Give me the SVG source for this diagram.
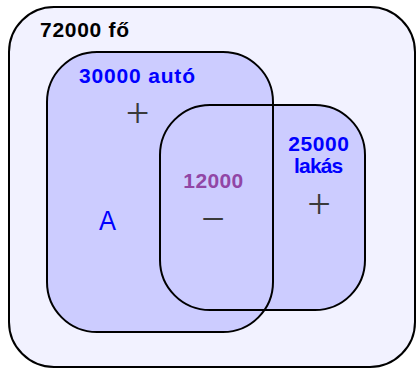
<svg xmlns="http://www.w3.org/2000/svg" width="416" height="369" viewBox="0 0 416 369">
<style>
.box{stroke:#000;stroke-width:2}
.lbl{font-family:"Liberation Sans",Arial,sans-serif;font-weight:bold;font-size:21px}
.sym{font-family:"Liberation Serif","Times New Roman",serif;font-size:42px;fill:#3a3a3a;text-anchor:middle}
</style>
<rect width="416" height="369" fill="#fff"/>
<g id="universe">
<rect class="box" x="9" y="7" width="406" height="360" rx="45" ry="45" fill="#f2f2ff"/>
<text class="lbl" x="40" y="36.7" fill="#000" font-size="20" textLength="89">72000 fő</text>
</g>
<g id="fills">
<rect x="47" y="52" width="226" height="280" rx="50" ry="50" fill="#ccccff"/>
<rect x="160" y="105" width="205" height="205" rx="50" ry="50" fill="#ccccff"/>
</g>
<g id="auto">
<rect class="box" x="47" y="52" width="226" height="280" rx="50" ry="50" fill="none"/>
<text class="lbl" x="79" y="83.3" fill="#0000ff" textLength="116">30000 autó</text>
<text class="sym" x="137.5" y="127">+</text>
<text x="99" y="229.5" font-family="Liberation Sans,Arial,sans-serif" font-size="28" fill="#0000ff" textLength="17" lengthAdjust="spacingAndGlyphs">A</text>
</g>
<g id="lakas">
<rect class="box" x="160" y="105" width="205" height="205" rx="50" ry="50" fill="none"/>
<text class="lbl" x="288.3" y="150.7" fill="#0000ff" textLength="60.7">25000</text>
<text class="lbl" x="294" y="173" fill="#0000ff" textLength="49.3">lakás</text>
<text class="sym" x="319" y="218">+</text>
</g>
<g id="metszet">
<text class="lbl" x="183.3" y="188" fill="#9146a6" textLength="60">12000</text>
<text class="sym" x="213" y="233">−</text>
</g>
</svg>
